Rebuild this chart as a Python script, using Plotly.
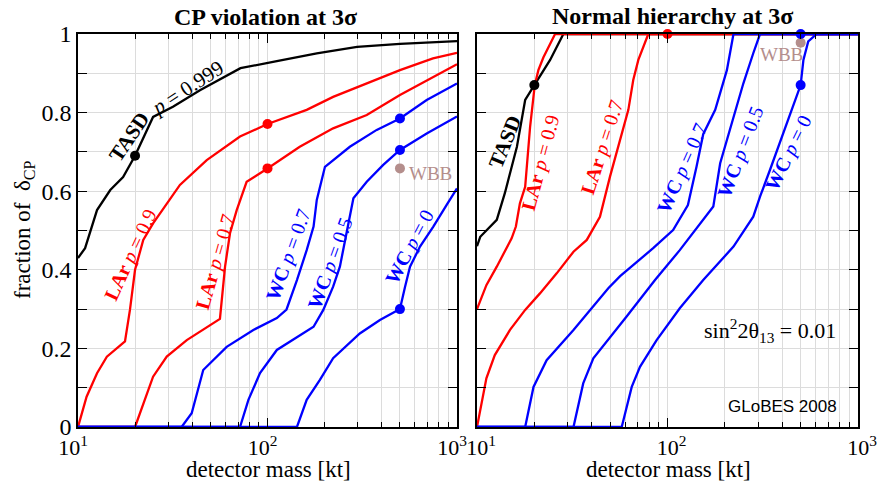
import plotly.graph_objects as go

# ---------------- data: CP violation at 3 sigma (left panel) ----------------
tasd_cp_x = [10, 10.9, 12.6, 14.8, 17.3, 20, 24.9, 31.7, 44, 72, 112, 182, 297, 500, 1000]
tasd_cp_y = [0.43, 0.455, 0.552, 0.603, 0.636, 0.69, 0.789, 0.815, 0.857, 0.913, 0.931, 0.951, 0.967, 0.975, 0.982]

lar09_cp_x = [10, 11.1, 12.6, 14.2, 17.7, 18.8, 20, 22.1, 24.9, 30.6, 34.5, 47.8, 71.6, 100, 161, 222, 334, 500, 747, 1000]
lar09_cp_y = [0, 0.077, 0.137, 0.179, 0.218, 0.298, 0.40, 0.476, 0.518, 0.578, 0.616, 0.679, 0.739, 0.771, 0.807, 0.840, 0.874, 0.908, 0.938, 0.952]

lar07_cp_x = [10, 20, 24.9, 29.4, 37.5, 56.1, 59.7, 63.4, 68.8, 73.0, 77.6, 100, 148, 222, 334, 500, 747, 1000]
lar07_cp_y = [0, 0, 0.128, 0.179, 0.221, 0.275, 0.408, 0.493, 0.552, 0.585, 0.624, 0.658, 0.713, 0.760, 0.794, 0.845, 0.891, 0.923]

wc07_cp_x = [10, 35.2, 39.8, 45.8, 60.9, 84.2, 112, 126, 143, 161, 175, 182, 201, 272, 377, 500, 692, 1000]
wc07_cp_y = [0, 0, 0.035, 0.145, 0.204, 0.247, 0.277, 0.299, 0.374, 0.45, 0.51, 0.578, 0.662, 0.713, 0.756, 0.785, 0.832, 0.874]

wc05_cp_x = [10, 71.6, 79.3, 91.3, 112, 148, 175, 197, 222, 241, 262, 284, 334, 408, 500, 692, 1000]
wc05_cp_y = [0, 0, 0.069, 0.137, 0.196, 0.234, 0.255, 0.298, 0.357, 0.408, 0.493, 0.582, 0.624, 0.667, 0.705, 0.747, 0.790]

wc0_cp_x = [10, 143, 161, 189, 222, 307, 392, 500, 532, 565, 638, 750, 882, 1000]
wc0_cp_y = [0, 0, 0.069, 0.120, 0.175, 0.238, 0.272, 0.30, 0.357, 0.408, 0.459, 0.51, 0.565, 0.607]

# ---------------- data: Normal hierarchy at 3 sigma (right panel) ----------------
tasd_nh_x = [10, 10.4, 12.7, 14.0, 16.2, 17.9, 20, 24.2, 28.4, 1000]
tasd_nh_y = [0.46, 0.484, 0.527, 0.595, 0.713, 0.832, 0.87, 0.934, 1.0, 1.0]

lar09_nh_x = [10, 11.2, 12.7, 14.3, 15.2, 16.0, 16.8, 17.9, 19.0, 20.1, 21.0, 22.3, 25.7, 1000]
lar09_nh_y = [0.30, 0.361, 0.408, 0.455, 0.48, 0.51, 0.569, 0.611, 0.764, 0.870, 0.908, 0.94, 1.0, 1.0]

lar07_nh_x = [10, 11.2, 12.4, 14.9, 17.9, 21.4, 26.2, 32.1, 37.7, 44.2, 49.9, 58.6, 62.3, 66.1, 70.3, 79.3, 1000]
lar07_nh_y = [0, 0.124, 0.183, 0.247, 0.298, 0.340, 0.391, 0.446, 0.476, 0.535, 0.637, 0.756, 0.807, 0.883, 0.934, 1.0, 1.0]

wc07_nh_x = [10, 17.9, 19.8, 23.2, 32.1, 48.9, 56.4, 84.1, 107, 128, 142, 154, 178, 205, 222, 1000]
wc07_nh_y = [0, 0, 0.102, 0.170, 0.247, 0.353, 0.384, 0.455, 0.501, 0.565, 0.662, 0.745, 0.807, 0.908, 1.0, 1.0]

wc05_nh_x = [10, 32.1, 36.1, 40.8, 61, 86, 116, 151, 174, 189, 205, 222, 250, 282, 306, 1000]
wc05_nh_y = [0, 0, 0.111, 0.175, 0.281, 0.374, 0.45, 0.522, 0.561, 0.671, 0.73, 0.79, 0.874, 0.951, 1.0, 1.0]

wc0_nh_x = [10, 57.5, 64.9, 71.7, 87.7, 116, 154, 222, 282, 306, 345, 500, 517, 548, 607, 1000]
wc0_nh_y = [0, 0, 0.102, 0.153, 0.221, 0.302, 0.374, 0.459, 0.535, 0.586, 0.654, 0.87, 0.934, 0.981, 1.0, 1.0]

# ---------------- marked points ----------------
dots_cp_x = [20, 100, 100, 500, 500, 500]
dots_cp_y = [0.69, 0.771, 0.658, 0.785, 0.705, 0.30]
dots_cp_c = ["black", "red", "red", "blue", "blue", "blue"]
wbb_cp = (500, 0.658)

dots_nh_x = [20, 100, 500, 500]
dots_nh_y = [0.87, 1.0, 1.0, 0.87]
dots_nh_c = ["black", "red", "blue", "blue"]
wbb_nh = (500, 0.978)

# ---------------- ticks ----------------
x_major = [10, 100, 1000]
x_major_text = ["10<sup>1</sup>", "10<sup>2</sup>", "10<sup>3</sup>"]
x_minor = [m * d for d in (1, 10, 100) for m in range(2, 10)]
y_ticks = [i / 10 for i in range(11)]
y_text = ["0", "", "0.2", "", "0.4", "", "0.6", "", "0.8", "", "1"]

RED, BLUE, BLACK = "#ff0000", "#0000ff", "#000000"
WBBC = "#b48e8c"
SERIF = "Liberation Serif, Times New Roman, serif"
GRID = "#dcdcdc"

fig = go.Figure()


def line(x, y, color, xa, ya):
    fig.add_trace(go.Scatter(x=x, y=y, mode="lines", line=dict(color=color, width=2.3),
                             xaxis=xa, yaxis=ya, showlegend=False, hoverinfo="skip"))


# left panel
line(tasd_cp_x, tasd_cp_y, BLACK, "x", "y")
line(lar09_cp_x, lar09_cp_y, RED, "x", "y")
line(lar07_cp_x, lar07_cp_y, RED, "x", "y")
line(wc0_cp_x, wc0_cp_y, BLUE, "x", "y")
line(wc05_cp_x, wc05_cp_y, BLUE, "x", "y")
line(wc07_cp_x, wc07_cp_y, BLUE, "x", "y")
# right panel
line(tasd_nh_x, tasd_nh_y, BLACK, "x2", "y2")
line(lar09_nh_x, lar09_nh_y, RED, "x2", "y2")
line(lar07_nh_x, lar07_nh_y, RED, "x2", "y2")
line(wc0_nh_x, wc0_nh_y, BLUE, "x2", "y2")
line(wc05_nh_x, wc05_nh_y, BLUE, "x2", "y2")
line(wc07_nh_x, wc07_nh_y, BLUE, "x2", "y2")

fig.add_trace(go.Scatter(x=[wbb_cp[0]], y=[wbb_cp[1]], mode="markers", marker=dict(size=10, color=WBBC),
                         xaxis="x", yaxis="y", showlegend=False, cliponaxis=False, hoverinfo="skip"))
fig.add_trace(go.Scatter(x=dots_cp_x, y=dots_cp_y, mode="markers", marker=dict(size=10, color=dots_cp_c),
                         xaxis="x", yaxis="y", showlegend=False, cliponaxis=False, hoverinfo="skip"))
fig.add_trace(go.Scatter(x=[wbb_nh[0]], y=[wbb_nh[1]], mode="markers", marker=dict(size=10, color=WBBC),
                         xaxis="x2", yaxis="y2", showlegend=False, cliponaxis=False, hoverinfo="skip"))
fig.add_trace(go.Scatter(x=dots_nh_x, y=dots_nh_y, mode="markers", marker=dict(size=10, color=dots_nh_c),
                         xaxis="x2", yaxis="y2", showlegend=False, cliponaxis=False, hoverinfo="skip"))

W, H = 879, 486
L1, R1 = 78, 457
L2, R2 = 477, 858


def xaxis(domain, anchor, shift):
    return dict(type="log", range=[1, 3], domain=domain, anchor=anchor, automargin=False,
                tickmode="array", tickvals=x_major, ticktext=x_major_text, ticklabelshift=shift,
                ticklabeloverflow="allow",
                ticks="inside", ticklen=9, tickwidth=1.2, tickcolor="black",
                showline=True, linecolor="black", linewidth=1.5, mirror="allticks",
                showgrid=True, gridcolor=GRID, gridwidth=1, zeroline=False,
                minor=dict(tickmode="array", tickvals=x_minor, ticks="inside", ticklen=5,
                           tickwidth=1.2, tickcolor="black", showgrid=True, gridcolor=GRID, gridwidth=1),
                tickfont=dict(family=SERIF, size=22, color="black"), fixedrange=True)


def yaxis(anchor, labels):
    return dict(range=[0, 1], domain=[0, 1], anchor=anchor, automargin=False,
                tickmode="array", tickvals=y_ticks, ticktext=y_text, showticklabels=labels,
                ticks="inside", ticklen=9, tickwidth=1.2, tickcolor="black",
                showline=True, linecolor="black", linewidth=1.5, mirror="allticks",
                showgrid=True, gridcolor=GRID, gridwidth=1, zeroline=False,
                tickfont=dict(family=SERIF, size=24, color="black"), fixedrange=True)


fig.update_layout(
    width=W, height=H,
    margin=dict(l=0, r=0, t=34, b=59, pad=0, autoexpand=False),
    paper_bgcolor="white", plot_bgcolor="white",
    xaxis=xaxis([L1 / W, R1 / W], "y", -5),
    yaxis=yaxis("x", True),
    xaxis2=xaxis([L2 / W, R2 / W], "y2", 4),
    yaxis2=yaxis("x2", False),
    showlegend=False,
)

ann = []


def label(text, x, y, angle, color, xref="x", yref="y", size=20, xanchor="center", family=SERIF):
    ann.append(dict(text=text, x=x, y=y, xref=xref, yref=yref, textangle=angle, showarrow=False,
                    font=dict(family=family, size=size, color=color), xanchor=xanchor, yanchor="middle"))


# left panel labels (x in log10 units)
label("<b>TASD</b>", 1.269, 0.738, -56, BLACK, size=21)
label("<i>p</i> = 0.999", 1.575, 0.863, -33, BLACK, size=21)
label("<b>LAr</b> <i>p</i> = 0.9", 1.28, 0.438, -65, RED)
label("<b>LAr</b> <i>p</i> = 0.7", 1.728, 0.42, -74, RED)
label("<b>WC</b> <i>p</i> = 0.7", 2.113, 0.438, -70, BLUE)
label("<b>WC</b> <i>p</i> = 0.5", 2.33, 0.417, -70, BLUE)
label("<b>WC</b> <i>p</i> = 0", 2.747, 0.458, -62, BLUE)
label("WBB", 2.858, 0.644, 0, WBBC, size=19)
# right panel labels
label("<b>TASD</b>", 1.147, 0.725, -68, BLACK, "x2", "y2", size=21)
label("<b>LAr</b> <i>p</i> = 0.9", 1.336, 0.672, -75, RED, "x2", "y2")
label("<b>LAr</b> <i>p</i> = 0.7", 1.656, 0.712, -72, RED, "x2", "y2")
label("<b>WC</b> <i>p</i> = 0.7", 2.076, 0.659, -66, BLUE, "x2", "y2")
label("<b>WC</b> <i>p</i> = 0.5", 2.386, 0.700, -69, BLUE, "x2", "y2")
label("<b>WC</b> <i>p</i> = 0", 2.633, 0.697, -64, BLUE, "x2", "y2")
label("WBB", 2.601, 0.947, 0, WBBC, "x2", "y2", size=19)
label("sin<sup>2</sup>2θ<sub>13</sub> = 0.01", 2.895, 0.245, 0, BLACK, "x2", "y2", size=22, xanchor="right")
label("GLoBES 2008", 2.9, 0.053, 0, BLACK, "x2", "y2", size=17, xanchor="right",
      family="Liberation Sans, Arial, sans-serif")

# titles and axis titles (paper coordinates)
label("<b>CP violation at 3σ</b>", 265 / W, (427 - 17) / 393, 0, BLACK, "paper", "paper", size=24)
label("<b>Normal hierarchy at 3σ</b>", 672 / W, (427 - 16) / 393, 0, BLACK, "paper", "paper", size=24)
label("detector mass [kt]", 268 / W, (427 - 470) / 393, 0, BLACK, "paper", "paper", size=23)
label("detector mass [kt]", 668 / W, (427 - 470) / 393, 0, BLACK, "paper", "paper", size=23)
label("fraction of  δ<sub>CP</sub>", 24 / W, (427 - 230) / 393, -90, BLACK, "paper", "paper", size=23)

fig.update_layout(annotations=ann)
fig.write_html("out.html", config={"displayModeBar": False},
               post_script="document.body.style.margin='0';document.body.style.padding='0';")
